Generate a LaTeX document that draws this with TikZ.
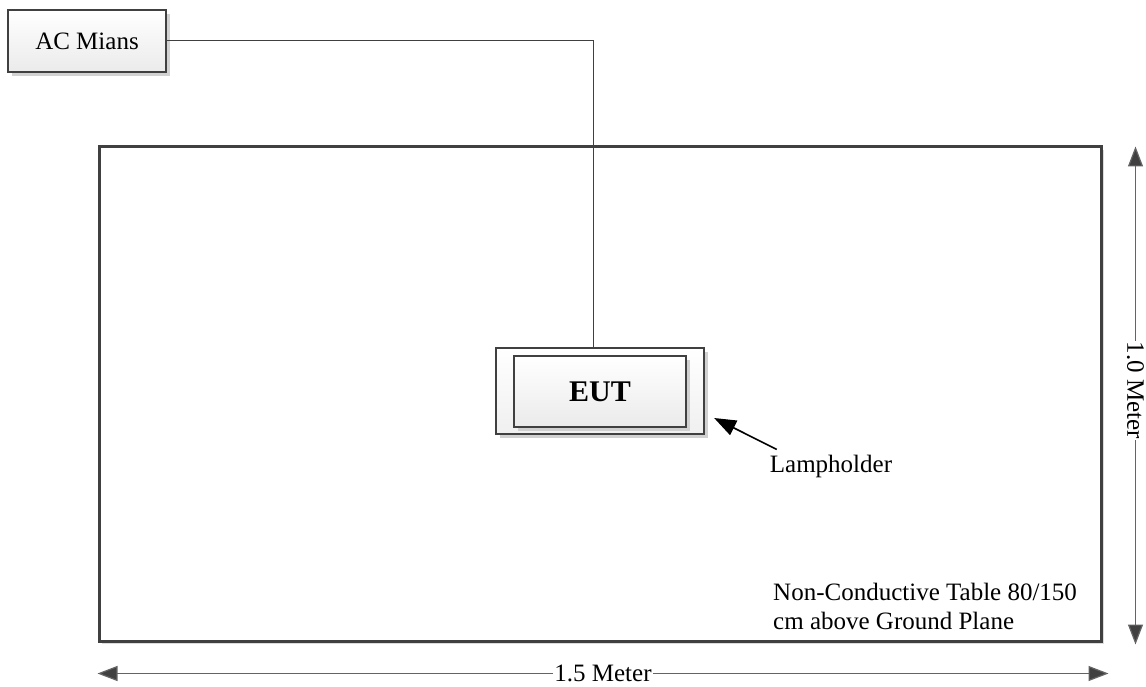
\documentclass[tikz,border=0pt]{standalone}
\usepackage{fontspec}
\setmainfont{Liberation Serif}
\usetikzlibrary{arrows.meta,shadows,calc}
\definecolor{boxline}{RGB}{64,64,64}
\definecolor{dimline}{RGB}{100,100,100}
\definecolor{shadowgray}{RGB}{205,205,205}
\begin{document}
\begin{tikzpicture}[x=1pt,y=-1pt,
  txt/.style={inner sep=0pt, font=\fontsize{25}{29}\selectfont},
  cbox/.style={draw=boxline, line width=2.2pt, top color=white, bottom color=black!8,
    drop shadow={shadow xshift=4pt, shadow yshift=-4pt, fill=shadowgray, opacity=0.9},
    inner sep=0pt},
  tablebox/.style={draw=boxline, line width=3pt, fill=white, inner sep=0pt,
    drop shadow={shadow xshift=3pt, shadow yshift=-3pt, fill=shadowgray, opacity=0.7}},
  wire/.style={draw=boxline, line width=1pt},
  dimarrow/.style={draw=dimline, line width=1.2pt,
    {Triangle[length=20pt,width=15pt,fill=boxline]}-{Triangle[length=20pt,width=15pt,fill=boxline]}},
  pointer/.style={draw=black, line width=1.6pt, -{Triangle[length=22pt,width=16pt]}},
  dimlabel/.style={txt, fill=white, inner xsep=1pt}
]
\useasboundingbox (0,0) rectangle (1146,687);
\node[tablebox, minimum width=1002pt, minimum height=494pt] (table) at (600,394) {};
\node[cbox, minimum width=158pt, minimum height=62pt, font=\fontsize{25}{29}\selectfont] (ac) at (87,41) {AC Mians};
\node[cbox, top color=white, bottom color=black!6, minimum width=208pt, minimum height=86pt] (eut) at (600,391) {};
\node[cbox, minimum width=172pt, minimum height=71pt, font=\bfseries\fontsize{30}{36}\selectfont] (eutin) at (600,391.5) {EUT};
\draw[wire] (ac.east) -| ([xshift=-7pt]eut.north);
\node[txt, anchor=base] (lamp) at (831,472) {Lampholder};
\coordinate (ltail) at ([shift={(7,-5)}]lamp.north west);
\coordinate (ltip) at ([shift={(9,27)}]eut.east);
\draw[pointer] (ltail) -- (ltip);
\node[txt, align=left, anchor=north west] (note) at (773,583) {Non-Conductive Table 80/150\\cm above Ground Plane};
\coordinate (vtop) at ([shift={(33pt,-1pt)}]table.north east);
\coordinate (vbot) at ([shift={(33pt,-2pt)}]table.south east);
\draw[dimarrow] (vtop) -- node[dimlabel, rotate=-90, pos=0.49] (vlab) {1.0 Meter} (vbot);
\coordinate (hl) at ([yshift=-31pt]table.south west);
\coordinate (hr) at ([shift={(6pt,-31pt)}]table.south east);
\draw[dimarrow] (hl) -- node[dimlabel] (hlab) {1.5 Meter} (hr);
\end{tikzpicture}
\end{document}
